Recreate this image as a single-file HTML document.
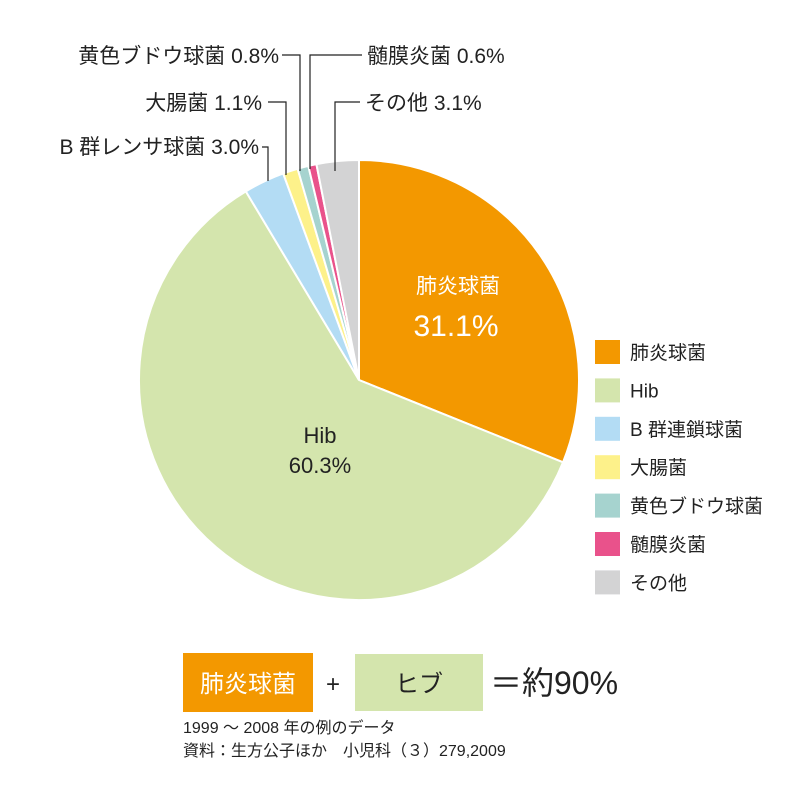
<!DOCTYPE html>
<html><head><meta charset="utf-8">
<style>
body{margin:0;background:#fff;}
svg{display:block;font-family:"Liberation Sans","Noto Sans CJK JP",sans-serif;}
</style></head>
<body>
<svg id="chart" width="810" height="810" viewBox="0 0 810 810">
<g id="slices"></g>
<g id="legend"></g>
<g id="callouts" stroke="#222" stroke-width="1.2" fill="none">
<polyline points="262,147 268,147 268,181"/>
<polyline points="268,102 286,102 286,175"/>
<polyline points="282,55 300,55 300,171"/>
<polyline points="362,55 310,55 310,169"/>
<polyline points="360,102 335,102 335,171"/>
</g>
<g font-size="21" fill="#222">
<text x="279" y="63" text-anchor="end">黄色ブドウ球菌 0.8%</text>
<text x="367" y="63">髄膜炎菌 0.6%</text>
<text x="262" y="110" text-anchor="end">大腸菌 1.1%</text>
<text x="365" y="110">その他 3.1%</text>
<text x="259" y="154" text-anchor="end">B 群レンサ球菌 3.0%</text>
</g>
<text x="458" y="293" text-anchor="middle" font-size="21" fill="#fff">肺炎球菌</text>
<text x="456" y="336" text-anchor="middle" font-size="30" fill="#fff">31.1%</text>
<text x="320" y="443" text-anchor="middle" font-size="22" fill="#222">Hib</text>
<text x="320" y="473" text-anchor="middle" font-size="22" fill="#222">60.3%</text>

<rect x="183" y="653" width="130" height="59" fill="#f39800"/>
<text x="248" y="692" text-anchor="middle" font-size="24" fill="#fff">肺炎球菌</text>
<text x="333" y="692" text-anchor="middle" font-size="24" fill="#222">+</text>
<rect x="355" y="654" width="128" height="57" fill="#d4e5ad"/>
<text x="419" y="692" text-anchor="middle" font-size="24" fill="#222">ヒブ</text>
<text x="490" y="694" font-size="32" fill="#222">＝約90%</text>
<text x="183" y="733" font-size="16" fill="#222">1999 ～ 2008 年の例のデータ</text>
<text x="183" y="756" font-size="16" fill="#222">資料：生方公子ほか　小児科（３）279,2009</text>
</svg>
<script>
const categories=["肺炎球菌","Hib","B 群連鎖球菌","大腸菌","黄色ブドウ球菌","髄膜炎菌","その他"];
const values=[31.1,60.3,3.0,1.1,0.8,0.6,3.1];
const colors=["#f39800","#d4e5ad","#b3dcf4","#fdf18a","#a6d3cf","#e9528b","#d3d3d4"];
const NS="http://www.w3.org/2000/svg";
const cx=359,cy=380,r=220;
const total=values.reduce((a,b)=>a+b,0);
function angle(v){return v/total*Math.PI*2;}
function pt(a){return [cx+r*Math.sin(a),cy-r*Math.cos(a)];}
const g=document.getElementById('slices');
let acc=0;
values.forEach((v,i)=>{
  const a0=angle(acc),a1=angle(acc+v);acc+=v;
  const p0=pt(a0),p1=pt(a1);
  const large=(a1-a0)>Math.PI?1:0;
  const p=document.createElementNS(NS,'path');
  p.setAttribute('d',`M${cx},${cy}L${p0[0]},${p0[1]}A${r},${r} 0 ${large} 1 ${p1[0]},${p1[1]}Z`);
  p.setAttribute('fill',colors[i]);
  p.setAttribute('stroke','#fff');
  p.setAttribute('stroke-width','2');
  
  
  g.appendChild(p);
});
const lg=document.getElementById('legend');
categories.forEach((c,i)=>{
  const y=340+i*38.4;
  const s=document.createElementNS(NS,'rect');
  s.setAttribute('x',595);s.setAttribute('y',y);s.setAttribute('width',25);s.setAttribute('height',24);
  s.setAttribute('fill',colors[i]);
  
  
  lg.appendChild(s);
  const t=document.createElementNS(NS,'text');
  t.setAttribute('x',630);t.setAttribute('y',y+19);
  t.setAttribute('font-size','19');t.setAttribute('fill','#222');
  t.textContent=c;
  
  
  lg.appendChild(t);
});
</script>
</body></html>
